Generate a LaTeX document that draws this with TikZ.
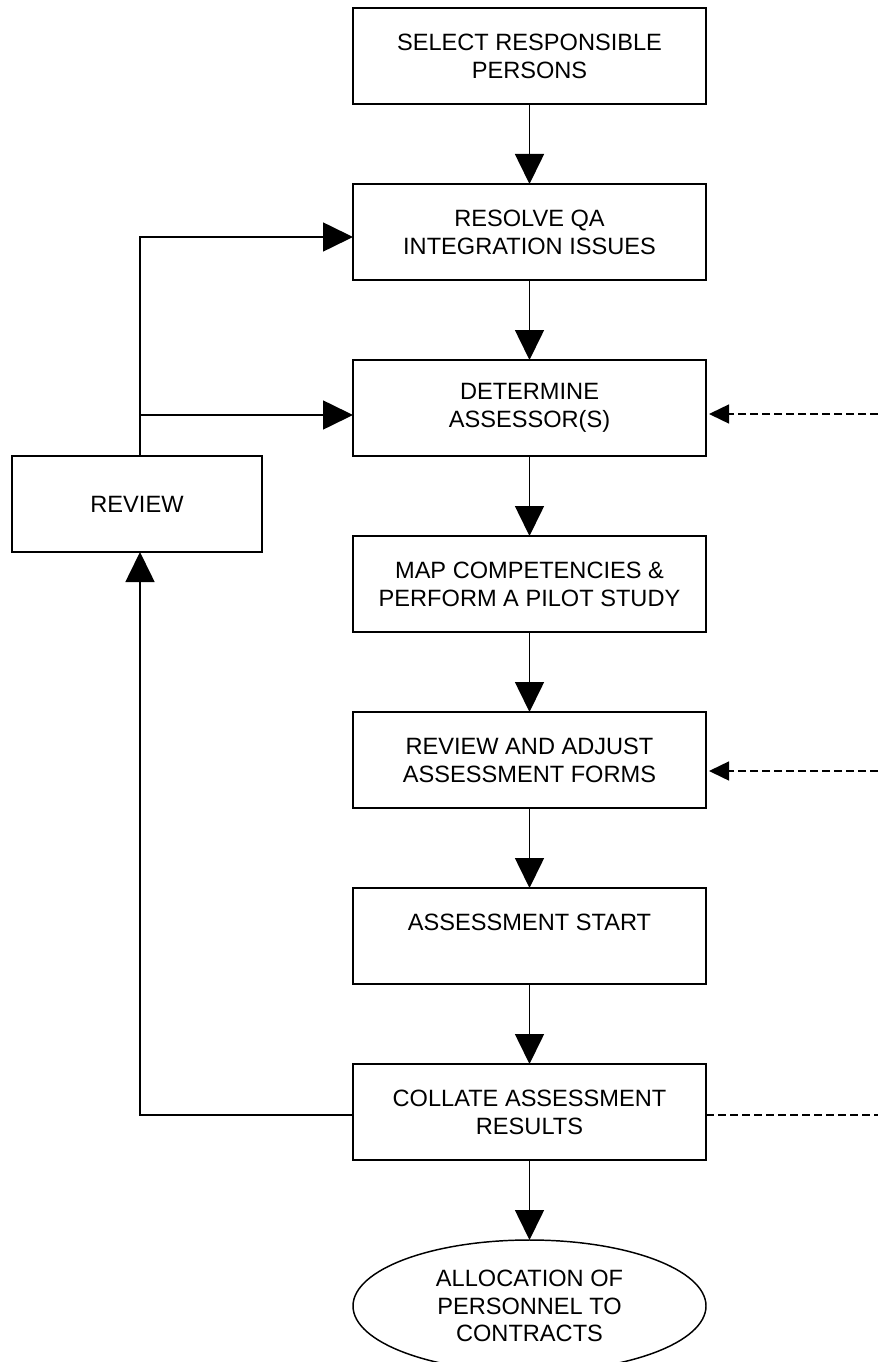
\documentclass[tikz,border=0pt]{standalone}
\usepackage{fontspec}
\setmainfont{Liberation Sans}
\usetikzlibrary{arrows.meta,shapes.geometric}
\tikzset{
  box/.style={draw, line width=1.5pt, minimum width=264.75pt, minimum height=72pt, inner sep=0pt, outer sep=0pt, align=center, font=\fontsize{17.7}{21}\selectfont},
  oval/.style={draw, ellipse, line width=1.1pt, minimum width=264.75pt, minimum height=99pt, inner sep=0pt, outer sep=0pt, align=center, font=\fontsize{17.7}{20.6}\selectfont},
  conn/.style={line width=1.2pt},
  arr/.style={conn, -{Triangle[length=22.5pt,width=21.75pt]}},
  darr/.style={line width=1.1pt, dash pattern=on 6pt off 3pt, -{Triangle[length=15pt,width=14.25pt]}},
  dline/.style={line width=1.1pt, dash pattern=on 6pt off 3pt}
}
\begin{document}
\begin{tikzpicture}[x=0.75pt,y=-0.75pt]
\useasboundingbox (0,0) rectangle (878,1362);
\node[box] (b1) at (529.5,56) {SELECT RESPONSIBLE\\PERSONS};
\node[box] (b2) at (529.5,232) {RESOLVE QA\\INTEGRATION ISSUES};
\node[box] (b3) at (529.5,408) {DETERMINE\\ASSESSOR(S)};
\node[box] (b4) at (529.5,584) {MAP COMPETENCIES \&\\PERFORM A PILOT STUDY};
\node[box] (b5) at (529.5,760) {REVIEW AND ADJUST\\ASSESSMENT FORMS};
\node[box] (b6) at (529.5,936) {ASSESSMENT START\\~};
\node[box] (b7) at (529.5,1112) {COLLATE ASSESSMENT\\RESULTS};
\node[oval] (b8) at (529.5,1306) {ALLOCATION OF\\PERSONNEL TO\\CONTRACTS};
\node[box, minimum width=187.5pt] (rev) at (137,504) {REVIEW};

\draw[arr] (b1.south) -- (b2.north);
\draw[arr] (b2.south) -- (b3.north);
\draw[arr] (b3.south) -- (b4.north);
\draw[arr] (b4.south) -- (b5.north);
\draw[arr] (b5.south) -- (b6.north);
\draw[arr] (b6.south) -- (b7.north);
\draw[arr] (b7.south) -- (b8.north);

\coordinate (j1) at (140,237);
\coordinate (j2) at (140,415);
\coordinate (j3) at (140,1115);
\draw[arr] (rev.north -| j1) -- (j1) -- (j1 -| b2.west);
\draw[arr] (j2) -- (j2 -| b3.west);
\draw[arr] (b7.west |- j3) -- (j3) -- (rev.south -| j3);

\coordinate (d1) at (878,414);
\coordinate (d2) at (878,771);
\coordinate (d3) at (878,1115);
\draw[darr, shorten >=2.25pt] (d1) -- (d1 -| b3.east);
\draw[darr, shorten >=2.25pt] (d2) -- (d2 -| b5.east);
\draw[dline] (b7.east |- d3) -- (d3);
\end{tikzpicture}
\end{document}
